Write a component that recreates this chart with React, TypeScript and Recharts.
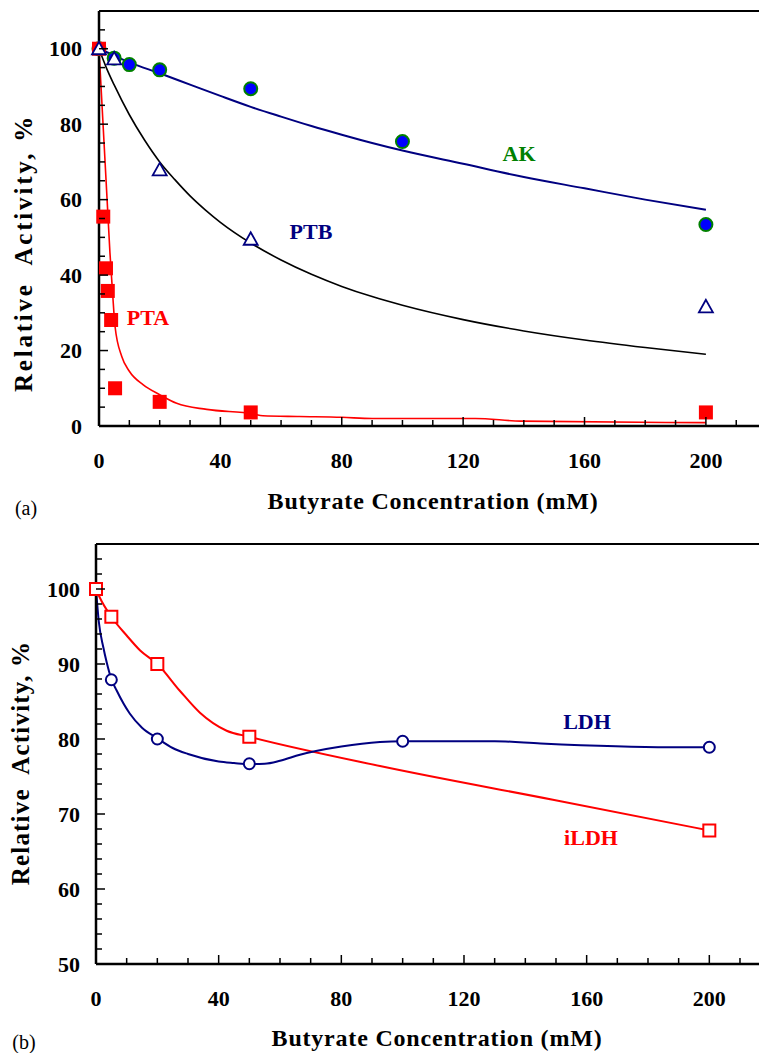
import React from "react";
import {
  ComposedChart,
  Line,
  Scatter,
  XAxis,
  YAxis,
  ReferenceLine,
} from "recharts";

// (a) measured activities vs butyrate concentration (mM)
const akX = [0, 5, 10, 20, 50, 100, 200];
const akY = [100, 97.5, 95.8, 94.4, 89.4, 75.4, 53.4];
const ptbX = [0, 5, 20, 50, 200];
const ptbY = [100, 97.3, 67.9, 49.5, 31.6];
const ptaX = [0, 1.4, 2.3, 2.9, 4, 5.3, 20, 50, 200];
const ptaY = [100, 55.5, 41.8, 35.8, 28.1, 10, 6.4, 3.6, 3.6];

// (a) fitted curves
const akFitX = [0, 5, 10, 20, 30, 40, 50, 60, 70, 80, 90, 100, 120, 140, 160, 180, 200];
const akFitY = [100, 98.2, 96.4, 93.5, 90.5, 87.5, 84.6, 82, 79.5, 77.2, 75, 73, 69.5, 66, 63, 60, 57.3];
const ptbFitX = [0, 2.5, 5, 10, 15, 20, 25, 30, 35, 40, 50, 60, 70, 80, 90, 100, 120, 140, 160, 180, 200];
const ptbFitY = [100, 94.8, 90.4, 82.5, 75.8, 70, 65.3, 61, 57.3, 54, 48.5, 44, 40.2, 37, 34.3, 32, 28.2, 25.2, 22.8, 20.8, 19];
const ptaFitX = [0, 3.6, 4.5, 5.3, 7.5, 10, 14.6, 20, 25.6, 35.5, 50.8, 54, 66, 80, 90, 124, 139, 200];
const ptaFitY = [100, 46, 35, 26.3, 18.4, 14.5, 10.9, 8.3, 6, 4.4, 3.2, 2.7, 2.5, 2.3, 2.0, 2.0, 1.3, 0.9];

// (b) LDH / iLDH
const ldhX = [0, 5, 20, 50, 100, 200];
const ldhY = [100, 87.9, 80.0, 76.7, 79.7, 78.9];
const ildhX = [0, 5, 20, 50, 200];
const ildhY = [100, 96.3, 90.0, 80.3, 67.8];
const ldhFitX = [0, 0.9, 2.4, 3.5, 5, 6.7, 11, 15, 20, 25, 30, 40, 45, 50, 55, 60, 66.5, 80, 92.6, 100, 130, 145, 187, 200];
const ldhFitY = [100, 95.7, 92.2, 90.2, 88, 86.5, 83.4, 81.5, 80.1, 78.8, 78, 77, 76.8, 76.65, 76.7, 77.1, 77.9, 79, 79.6, 79.7, 79.7, 79.4, 78.9, 78.9];
const ildhFitX = [0, 1.3, 5, 10, 14.4, 20, 27.4, 33.9, 42.6, 50, 92.6, 149, 200];
const ildhFitY = [100, 98.8, 96.3, 93.8, 91.8, 90, 86.4, 83.5, 81.1, 80.3, 76.4, 71.9, 67.8];

// axis ticks
const xTicks = [0, 10, 20, 30, 40, 50, 60, 70, 80, 90, 100, 110, 120, 130, 140, 150, 160, 170, 180, 190, 200, 210];
const yTicksA = [0, 5, 10, 15, 20, 25, 30, 35, 40, 45, 50, 55, 60, 65, 70, 75, 80, 85, 90, 95, 100, 105, 110];
const yTicksB = [50, 52, 54, 56, 58, 60, 62, 64, 66, 68, 70, 72, 74, 76, 78, 80, 82, 84, 86, 88, 90, 92, 94, 96, 98, 100, 102, 104];

const FONT = "'Liberation Serif', 'Times New Roman', serif";
const NAVY = "#000080";
const RED = "#ff0000";
const GREEN = "#008000";

const pts = (xs: number[], ys: number[]) => xs.map((x, i) => ({ x, y: ys[i] }));

function makeXTick(every: number) {
  return (props: any) => {
    const { x, y, payload } = props;
    const v = payload.value;
    const major = v % every === 0;
    return (
      <g>
        <line x1={x} x2={x} y1={y} y2={y - (major ? 9 : 6)} stroke="#000" strokeWidth={1.5} />
        {major && (
          <text x={x} y={y + 34} textAnchor="middle" dominantBaseline="central"
            fontFamily={FONT} fontWeight="bold" fontSize={22} fill="#000">
            {v}
          </text>
        )}
      </g>
    );
  };
}

function makeYTick(every: number, gap: number) {
  return (props: any) => {
    const { x, y, payload } = props;
    const v = payload.value;
    const major = v % every === 0;
    return (
      <g>
        <line x1={x} x2={x + (major ? 9 : 6)} y1={y} y2={y} stroke="#000" strokeWidth={1.5} />
        {major && (
          <text x={x - gap} y={y} textAnchor="end" dominantBaseline="central"
            fontFamily={FONT} fontWeight="bold" fontSize={22} fill="#000">
            {v}
          </text>
        )}
      </g>
    );
  };
}

const akDot = (p: any) => (
  <circle cx={p.cx} cy={p.cy} r={6.5} fill="#0000ff" stroke={GREEN} strokeWidth={2} />
);
const ptaDot = (p: any) => (
  <rect x={p.cx - 7} y={p.cy - 7} width={14} height={14} fill={RED} />
);
const ptbDot = (p: any) => (
  <polygon
    points={`${p.cx},${p.cy - 7} ${p.cx - 7},${p.cy + 5.5} ${p.cx + 7},${p.cy + 5.5}`}
    fill="#fff" stroke={NAVY} strokeWidth={1.8}
  />
);
const ldhDot = (p: any) => (
  <circle cx={p.cx} cy={p.cy} r={5.5} fill="#fff" stroke={NAVY} strokeWidth={2} />
);
const ildhDot = (p: any) => (
  <rect x={p.cx - 6} y={p.cy - 6} width={12} height={12} fill="#fff" stroke={RED} strokeWidth={2} />
);

function Txt({ x, y, color = "#000", size = 22, bold = true, spacing = 0, rotate = false, children }: any) {
  return (
    <div
      style={{
        position: "absolute",
        left: x,
        top: y,
        transform: `translate(-50%, -50%)${rotate ? " rotate(-90deg)" : ""}`,
        color,
        fontSize: size,
        fontWeight: bold ? "bold" : "normal",
        fontFamily: FONT,
        letterSpacing: spacing,
        lineHeight: 1,
        whiteSpace: "pre",
      }}
    >
      {children}
    </div>
  );
}

export default function App() {
  return (
    <div style={{ position: "absolute", left: 0, top: 0, width: 759, height: 1053, background: "#fff", overflow: "hidden" }}>
      {/* panel (a) */}
      <div style={{ position: "absolute", left: 0, top: 0 }}>
        <ComposedChart width={759} height={530} margin={{ top: 11, right: 0, bottom: 0, left: 0 }}>
          <XAxis dataKey="x" type="number" domain={[0, 217.5]} ticks={xTicks} interval={0}
            tickSize={0} tickMargin={0} tickLine={false} tick={makeXTick(40)} height={104}
            axisLine={{ stroke: "#000", strokeWidth: 2.5 }} />
          <YAxis type="number" domain={[0, 110]} ticks={yTicksA} interval={0}
            tickSize={0} tickMargin={0} tickLine={false} tick={makeYTick(20, 17)} width={99}
            axisLine={{ stroke: "#000", strokeWidth: 2.5 }} />
          <ReferenceLine y={110} stroke="#000" strokeWidth={2} />
          <Line data={pts(ptaFitX, ptaFitY)} dataKey="y" type="monotone" stroke={RED} strokeWidth={1.6}
            dot={false} activeDot={false} isAnimationActive={false} />
          <Line data={pts(ptbFitX, ptbFitY)} dataKey="y" type="monotone" stroke="#000" strokeWidth={1.6}
            dot={false} activeDot={false} isAnimationActive={false} />
          <Line data={pts(akFitX, akFitY)} dataKey="y" type="monotone" stroke={NAVY} strokeWidth={2}
            dot={false} activeDot={false} isAnimationActive={false} />
          <Scatter data={pts(akX, akY)} dataKey="y" shape={akDot} isAnimationActive={false} />
          <Scatter data={pts(ptaX, ptaY)} dataKey="y" shape={ptaDot} isAnimationActive={false} />
          <Scatter data={pts(ptbX, ptbY)} dataKey="y" shape={ptbDot} isAnimationActive={false} />
        </ComposedChart>
      </div>
      <Txt x={519} y={154} color={GREEN}>AK</Txt>
      <Txt x={311} y={232} color={NAVY}>PTB</Txt>
      <Txt x={148} y={318} color={RED}>PTA</Txt>
      <Txt x={433} y={501} size={24} spacing={0.8}>Butyrate Concentration (mM)</Txt>
      <Txt x={23} y={253} size={25} spacing={2.8} rotate>Relative  Activity, %</Txt>
      <Txt x={26} y={508} size={20} bold={false}>(a)</Txt>

      {/* panel (b) */}
      <div style={{ position: "absolute", left: 0, top: 530 }}>
        <ComposedChart width={759} height={523} margin={{ top: 14, right: 0, bottom: 0, left: 0 }}>
          <XAxis dataKey="x" type="number" domain={[0, 216.2]} ticks={xTicks} interval={0}
            tickSize={0} tickMargin={0} tickLine={false} tick={makeXTick(40)} height={89}
            axisLine={{ stroke: "#000", strokeWidth: 2.5 }} />
          <YAxis type="number" domain={[50, 106]} ticks={yTicksB} interval={0}
            tickSize={0} tickMargin={0} tickLine={false} tick={makeYTick(10, 16)} width={96}
            axisLine={{ stroke: "#000", strokeWidth: 2.5 }} />
          <ReferenceLine y={106} stroke="#000" strokeWidth={2} />
          <Line data={pts(ildhFitX, ildhFitY)} dataKey="y" type="monotone" stroke={RED} strokeWidth={2}
            dot={false} activeDot={false} isAnimationActive={false} />
          <Line data={pts(ldhFitX, ldhFitY)} dataKey="y" type="monotone" stroke={NAVY} strokeWidth={2}
            dot={false} activeDot={false} isAnimationActive={false} />
          <Scatter data={pts(ldhX, ldhY)} dataKey="y" shape={ldhDot} isAnimationActive={false} />
          <Scatter data={pts(ildhX, ildhY)} dataKey="y" shape={ildhDot} isAnimationActive={false} />
        </ComposedChart>
      </div>
      <Txt x={587} y={722} color={NAVY}>LDH</Txt>
      <Txt x={591} y={838} color={RED}>iLDH</Txt>
      <Txt x={437} y={1038} size={24} spacing={0.8}>Butyrate Concentration (mM)</Txt>
      <Txt x={20} y={763} size={25} spacing={1.2} rotate>Relative  Activity, %</Txt>
      <Txt x={24} y={1042} size={20} bold={false}>(b)</Txt>
    </div>
  );
}
